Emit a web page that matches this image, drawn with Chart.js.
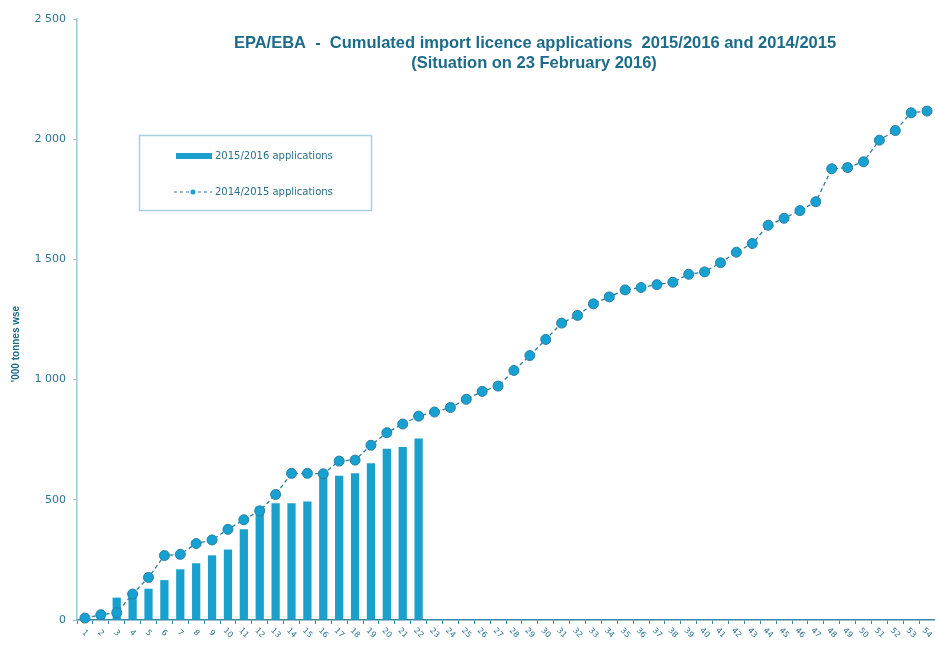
<!DOCTYPE html>
<html>
<head>
<meta charset="utf-8">
<script src="https://cdn.jsdelivr.net/npm/chart.js@4/dist/chart.umd.min.js"></script>
<style>
  html, body { margin: 0; padding: 0; background: #fff; }
  #chart { display: block; }
</style>
</head>
<body>
<canvas id="chart" width="935" height="651"></canvas>
<script>
const weeks = ["1","2","3","4","5","6","7","8","9","10","11","12","13","14","15","16","17","18",
  "19","20","21","22","23","24","25","26","27","28","29","30","31","32","33","34","35","36",
  "37","38","39","40","41","42","43","44","45","46","47","48","49","50","51","52","53","54"];

// '000 tonnes wse, cumulated
const apps2015 = [15, 20, 93, 100, 130, 166, 211, 236, 269, 293, 377, 472, 486, 486, 493,
  603, 600, 610, 652, 712, 720, 755];

const apps2014 = [8, 22, 30, 108, 177, 268, 273, 318, 333, 377, 417, 454, 522, 610, 610, 608,
  661, 665, 727, 779, 815, 848, 865, 884, 918, 951, 973, 1038, 1100, 1167, 1235, 1267, 1315,
  1344, 1373, 1383, 1395, 1405, 1438, 1448, 1486, 1530, 1566, 1642, 1671, 1703, 1740, 1877,
  1882, 1906, 1996, 2036, 2110, 2117];

const yTicks = [0, 500, 1000, 1500, 2000, 2500];

const titleLines = ["EPA/EBA  -  Cumulated import licence applications  2015/2016 and 2014/2015",
  "(Situation on 23 February 2016)"];
const seriesNames = ["2015/2016 applications", "2014/2015 applications"];

const barColor = "#1aa0cc";
const lineColor = "#2b7d9e";
const textColor = "#2a7596";

function fmt(v) {
  return String(v).replace(/\B(?=(\d{3})+(?!\d))/g, " ");
}

// title, legend box, axis title and slanted week labels
const decorations = {
  id: "decorations",
  afterDraw(chart) {
    const ctx = chart.ctx;
    const xs = chart.scales.x;
    ctx.save();

    // week labels, slanted
    ctx.fillStyle = textColor;
    ctx.font = '8px "DejaVu Sans"';
    ctx.textAlign = "center";
    ctx.textBaseline = "middle";
    weeks.forEach((w, i) => {
      ctx.save();
      ctx.translate(xs.getPixelForValue(i), 633);
      ctx.rotate(Math.PI / 4);
      ctx.fillText(w, 0, 0);
      ctx.restore();
    });

    // title
    ctx.fillStyle = "#1d6b8a";
    ctx.font = 'bold 16.5px "Liberation Sans"';
    ctx.fillText(titleLines[0], 535, 43);
    ctx.fillText(titleLines[1], 534, 63);

    // y axis title
    ctx.save();
    ctx.translate(16, 344);
    ctx.rotate(-Math.PI / 2);
    ctx.font = 'bold 10px "Liberation Sans"';
    ctx.fillText("'000 tonnes wse", 0, 0);
    ctx.restore();

    // legend
    ctx.strokeStyle = "#a9cfe0";
    ctx.lineWidth = 1.5;
    ctx.strokeRect(139.5, 135.5, 232, 75);
    ctx.fillStyle = barColor;
    ctx.fillRect(176, 153, 36, 6);
    ctx.strokeStyle = lineColor;
    ctx.lineWidth = 1.2;
    ctx.setLineDash([3, 3]);
    ctx.beginPath();
    ctx.moveTo(174, 192);
    ctx.lineTo(212, 192);
    ctx.stroke();
    ctx.setLineDash([]);
    ctx.beginPath();
    ctx.arc(193, 192, 2.5, 0, Math.PI * 2);
    ctx.fillStyle = barColor;
    ctx.fill();
    ctx.fillStyle = "#2a6f8c";
    ctx.font = '10px "DejaVu Sans"';
    ctx.textAlign = "left";
    ctx.fillText(seriesNames[0], 215, 156);
    ctx.fillText(seriesNames[1], 215, 192);

    ctx.restore();
  }
};

new Chart(document.getElementById("chart"), {
  type: "bar",
  data: {
    labels: weeks,
    datasets: [
      {
        type: "line",
        label: seriesNames[1],
        data: apps2014,
        order: 0,
        borderColor: lineColor,
        borderWidth: 1.3,
        borderDash: [4, 3],
        pointRadius: 5,
        pointBackgroundColor: "#16a1d3",
        pointBorderColor: "#2a7fa0",
        pointBorderWidth: 1,
        tension: 0,
        clip: false
      },
      {
        label: seriesNames[0],
        data: apps2015,
        order: 1,
        backgroundColor: barColor,
        categoryPercentage: 1,
        barPercentage: 0.52
      }
    ]
  },
  options: {
    responsive: false,
    animation: false,
    layout: { autoPadding: false, padding: { top: 19, right: -2, bottom: 0, left: 0 } },
    plugins: {
      legend: { display: false },
      title: { display: false },
      tooltip: { enabled: false }
    },
    scales: {
      x: {
        offset: true,
        grid: { drawOnChartArea: false, drawTicks: true, tickLength: 4, color: "#3a87a8" },
        border: { color: "#3a87a8", width: 1.5 },
        ticks: { display: false },
        afterFit(scale) { scale.height = 31; }
      },
      y: {
        min: 0,
        max: 2500,
        afterBuildTicks(scale) { scale.ticks = yTicks.map(v => ({ value: v })); },
        grid: { drawOnChartArea: false, drawTicks: true, tickLength: 4, color: "#9cc8da" },
        border: { color: "#9cc8da", width: 1.5 },
        ticks: {
          color: textColor,
          font: { family: "DejaVu Sans", size: 11 },
          padding: 7,
          callback: v => fmt(v)
        },
        afterFit(scale) { scale.width = 77; }
      }
    }
  },
  plugins: [decorations]
});
</script>
</body>
</html>
